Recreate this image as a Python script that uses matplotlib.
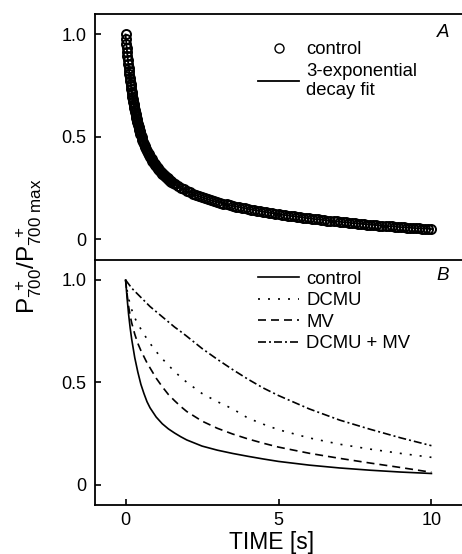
import numpy as np
import matplotlib
matplotlib.use('Agg')
import matplotlib.pyplot as plt

plt.rcParams['font.family'] = ['Liberation Sans', 'DejaVu Sans']
plt.rcParams['mathtext.fontset'] = 'custom'
plt.rcParams['mathtext.rm'] = 'Liberation Sans'
plt.rcParams['mathtext.it'] = 'Liberation Sans:italic'

# panel A: measured control (circles) and its 3-exponential fit
t_a = np.concatenate([np.linspace(0, 0.5, 41), np.linspace(0.525, 1.5, 40), [1.55],
                      np.linspace(1.6, 10, 85)])
control_a = [1.000, 0.977, 0.955, 0.933, 0.913, 0.893, 0.874, 0.856, 0.838, 0.821,
             0.805, 0.789, 0.774, 0.760, 0.746, 0.733, 0.720, 0.707, 0.695, 0.683,
             0.672, 0.661, 0.651, 0.640, 0.631, 0.621, 0.612, 0.603, 0.594, 0.586,
             0.578, 0.570, 0.562, 0.555, 0.548, 0.541, 0.534, 0.528, 0.521, 0.515, 0.509,
             0.497, 0.486, 0.476, 0.466, 0.457, 0.448, 0.439, 0.431, 0.423, 0.416,
             0.409, 0.402, 0.395, 0.389, 0.383, 0.377, 0.371, 0.366, 0.360, 0.355,
             0.350, 0.346, 0.341, 0.337, 0.332, 0.328, 0.324, 0.320, 0.316, 0.313,
             0.309, 0.306, 0.302, 0.299, 0.296, 0.292, 0.289, 0.286, 0.283, 0.280,
             0.275,
             0.270, 0.260, 0.251, 0.243, 0.235, 0.228, 0.221, 0.215, 0.209, 0.204,
             0.199, 0.194, 0.189, 0.185, 0.181, 0.177, 0.173, 0.169, 0.166, 0.162,
             0.159, 0.156, 0.153, 0.150, 0.147, 0.144, 0.141, 0.139, 0.136, 0.133,
             0.131, 0.128, 0.126, 0.124, 0.121, 0.119, 0.117, 0.115, 0.113, 0.111,
             0.109, 0.107, 0.105, 0.103, 0.101, 0.099, 0.097, 0.096, 0.094, 0.092,
             0.090, 0.089, 0.087, 0.086, 0.084, 0.083, 0.081, 0.080, 0.078, 0.077,
             0.075, 0.074, 0.073, 0.071, 0.070, 0.069, 0.068, 0.066, 0.065, 0.064,
             0.063, 0.062, 0.061, 0.059, 0.058, 0.057, 0.056, 0.055, 0.054, 0.053,
             0.052, 0.051, 0.051, 0.050, 0.049]

# panel B: fitted decays
t_b = [0, 0.05, 0.1, 0.15, 0.2, 0.3, 0.4, 0.5, 0.6, 0.7, 0.8, 1.0, 1.2, 1.4, 1.6, 1.8, 2.0,
       2.5, 3.0, 3.5, 4.0, 4.5, 5.0, 6.0, 7.0, 8.0, 9.0, 10.0]
control_b = [1.0, 0.91, 0.83, 0.765, 0.71, 0.62, 0.55, 0.49, 0.445, 0.405, 0.375, 0.33, 0.297,
             0.272, 0.252, 0.234, 0.218, 0.188, 0.168, 0.152, 0.138, 0.125, 0.113, 0.095,
             0.081, 0.070, 0.061, 0.054]
dcmu = [1.0, 0.95, 0.91, 0.88, 0.855, 0.815, 0.785, 0.76, 0.735, 0.712, 0.69, 0.65, 0.615,
        0.583, 0.553, 0.525, 0.50, 0.445, 0.405, 0.37, 0.325, 0.295, 0.268, 0.228, 0.197,
        0.173, 0.152, 0.133]
mv = [1.0, 0.93, 0.87, 0.825, 0.79, 0.735, 0.69, 0.655, 0.625, 0.595, 0.57, 0.52, 0.478,
      0.44, 0.41, 0.382, 0.357, 0.31, 0.275, 0.247, 0.223, 0.202, 0.183, 0.153, 0.128,
      0.105, 0.083, 0.06]
dcmu_mv = [1.0, 0.99, 0.98, 0.97, 0.96, 0.945, 0.93, 0.915, 0.90, 0.885, 0.87, 0.845, 0.82,
           0.795, 0.77, 0.748, 0.725, 0.665, 0.612, 0.562, 0.515, 0.472, 0.435, 0.37, 0.315,
           0.27, 0.228, 0.19]

W, H = 462, 554
fig = plt.figure(figsize=(W / 100, H / 100), dpi=100)
left = 95 / W
ax1 = fig.add_axes([left, 1 - 259.5 / H, 1 - left, (259.5 - 14) / H])
ax2 = fig.add_axes([left, 1 - 505 / H, 1 - left, (505 - 259.5) / H])

ax1.plot(t_a, control_a, 'o', ms=6.5, mfc='none', mec='black', mew=1.4, label='control')
ax1.plot(t_a, control_a, '-', color='black', lw=1.3, label='3-exponential\ndecay fit')

ax2.plot(t_b, control_b, color='black', lw=1.2, label='control')
ax2.plot(t_b, dcmu, color='black', lw=1.2, dashes=[1.2, 4.8], label='DCMU')
ax2.plot(t_b, mv, color='black', lw=1.2, dashes=[4.8, 3], label='MV')
ax2.plot(t_b, dcmu_mv, color='black', lw=1.2, dashes=[4.8, 1.8, 1.2, 1.8], label='DCMU + MV')

for ax in (ax1, ax2):
    ax.set_xlim(-1, 11)
    ax.set_ylim(-0.1, 1.1)
    ax.set_yticks([0, 0.5, 1.0])
    ax.set_yticklabels(['0', '0.5', '1.0'])
    ax.spines['right'].set_visible(False)
    for s in ax.spines.values():
        s.set_linewidth(1.3)
    ax.tick_params(direction='in', length=4, width=1.2, labelsize=13, pad=6)

ax1.set_xticks([])
ax1.spines['bottom'].set_visible(False)
ax2.set_xticks([0, 5, 10])
ax2.set_xticklabels(['0', '5', '10'])
ax2.tick_params(axis='x', pad=5)

ax1.text(0.965, 0.925, 'A', transform=ax1.transAxes, fontsize=13.5, style='italic', ha='right', va='center')
ax2.text(0.965, 0.935, 'B', transform=ax2.transAxes, fontsize=13.5, style='italic', ha='right', va='center')

leg1 = ax1.legend(loc='upper left', bbox_to_anchor=(0.425, 0.92), frameon=False, fontsize=13.3,
                  handlelength=2.2, handletextpad=0.4, labelspacing=0.25, borderaxespad=0)
leg1.legend_handles[0].set_markeredgewidth(1.0)
ax2.legend(loc='upper left', bbox_to_anchor=(0.425, 0.985), frameon=False, fontsize=13.3,
           handlelength=2.2, handletextpad=0.4, labelspacing=0.25, borderaxespad=0)

fig.text(29 / W, 1 - 246 / H, r'$\mathrm{P}_{700}^{\ +}/\mathrm{P}_{700\ \mathrm{max}}^{\ +}$',
         rotation=90, fontsize=17.5, ha='center', va='center')
fig.text(272 / W, 1 - 549 / H, 'TIME [s]', fontsize=16.5, ha='center', va='baseline')

fig.savefig('out.png', dpi=100)
